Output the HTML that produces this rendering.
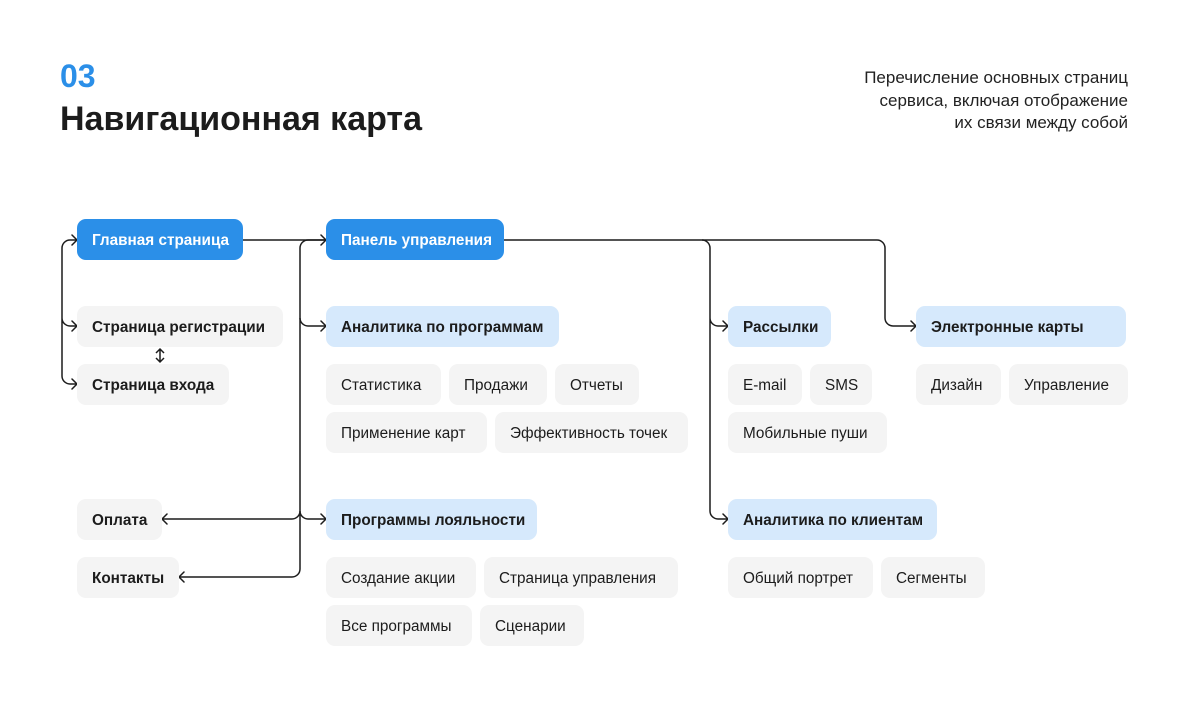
<!DOCTYPE html>
<html><head><meta charset="utf-8"><style>
*{margin:0;padding:0;box-sizing:border-box}
body{width:1200px;height:708px;background:#fff;position:relative;overflow:hidden;font-family:"Liberation Sans",sans-serif;color:#1c1c1c}
.b{position:absolute;height:41px;border-radius:9px;font-size:15.3px;line-height:43px;padding-left:15px;white-space:nowrap}
.m{background:#2b8fe8;color:#fff;font-weight:bold}
.l{background:#d6e9fc;font-weight:bold}
.g{background:#f4f4f4}
.gb{background:#f4f4f4;font-weight:bold}
svg{position:absolute;left:0;top:0}
</style></head><body>
<div style="position:absolute;left:60px;top:58px;font-size:32px;font-weight:bold;color:#2b8fe8">03</div>
<div style="position:absolute;left:60px;top:100px;font-size:34px;font-weight:bold;color:#1c1c1c">Навигационная карта</div>
<div style="position:absolute;right:72px;top:67px;font-size:17px;line-height:22.5px;text-align:right;color:#222">Перечисление основных страниц<br>сервиса, включая отображение<br>их связи между собой</div>
<svg width="1200" height="708" fill="none" stroke="#1c1c1c" stroke-width="1.5">
<path d="M243 240H326"/>
<path d="M77 240H70a8 8 0 0 0-8 8V376a8 8 0 0 0 8 8H77M62 318a8 8 0 0 0 8 8H77"/>
<path d="M326 240H308a8 8 0 0 0-8 8V569a8 8 0 0 1-8 8H179"/>
<path d="M300 318a8 8 0 0 0 8 8H326M300 511a8 8 0 0 0 8 8H326M300 511a8 8 0 0 1-8 8H162"/>
<path d="M504 240H877a8 8 0 0 1 8 8V318a8 8 0 0 0 8 8H916"/>
<path d="M702 240a8 8 0 0 1 8 8V511a8 8 0 0 0 8 8H728M710 318a8 8 0 0 0 8 8H728"/>
<path d="M160 349V362M156 353l4-4 4 4M156 358l4 4 4-4"/>
<g stroke-linecap="round" stroke-linejoin="round">
<path d="M321 235l5 5-5 5M72 235l5 5-5 5M72 321l5 5-5 5M72 379l5 5-5 5M321 321l5 5-5 5M321 514l5 5-5 5M723 321l5 5-5 5M723 514l5 5-5 5M911 321l5 5-5 5M167 514l-5 5 5 5M184 572l-5 5 5 5"/>
</g>
</svg>
<div class="b m" style="left:77px;top:219px;width:166px">Главная страница</div>
<div class="b m" style="left:326px;top:219px;width:178px">Панель управления</div>
<div class="b gb" style="left:77px;top:306px;width:206px">Страница регистрации</div>
<div class="b gb" style="left:77px;top:364px;width:152px">Страница входа</div>
<div class="b gb" style="left:77px;top:499px;width:85px">Оплата</div>
<div class="b gb" style="left:77px;top:557px;width:102px">Контакты</div>
<div class="b l" style="left:326px;top:306px;width:233px">Аналитика по программам</div>
<div class="b g" style="left:326px;top:364px;width:115px">Статистика</div>
<div class="b g" style="left:449px;top:364px;width:98px">Продажи</div>
<div class="b g" style="left:555px;top:364px;width:84px">Отчеты</div>
<div class="b g" style="left:326px;top:412px;width:161px">Применение карт</div>
<div class="b g" style="left:495px;top:412px;width:193px">Эффективность точек</div>
<div class="b l" style="left:326px;top:499px;width:211px">Программы лояльности</div>
<div class="b g" style="left:326px;top:557px;width:150px">Создание акции</div>
<div class="b g" style="left:484px;top:557px;width:194px">Страница управления</div>
<div class="b g" style="left:326px;top:605px;width:146px">Все программы</div>
<div class="b g" style="left:480px;top:605px;width:104px">Сценарии</div>
<div class="b l" style="left:728px;top:306px;width:103px">Рассылки</div>
<div class="b g" style="left:728px;top:364px;width:74px">E-mail</div>
<div class="b g" style="left:810px;top:364px;width:62px">SMS</div>
<div class="b g" style="left:728px;top:412px;width:159px">Мобильные пуши</div>
<div class="b l" style="left:728px;top:499px;width:209px">Аналитика по клиентам</div>
<div class="b g" style="left:728px;top:557px;width:145px">Общий портрет</div>
<div class="b g" style="left:881px;top:557px;width:104px">Сегменты</div>
<div class="b l" style="left:916px;top:306px;width:210px">Электронные карты</div>
<div class="b g" style="left:916px;top:364px;width:85px">Дизайн</div>
<div class="b g" style="left:1009px;top:364px;width:119px">Управление</div>
</body></html>
